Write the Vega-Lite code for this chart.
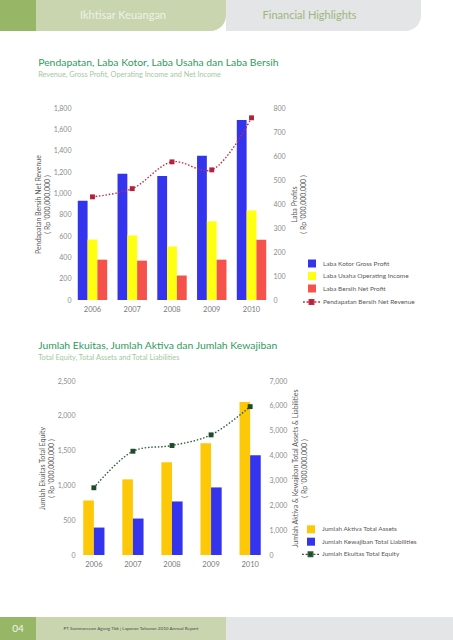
{
  "$schema": "https://vega.github.io/schema/vega-lite/v6.json",
  "padding": 0,
  "background": "white",
  "spacing": 0,
  "resolve": {"scale": {"color": "independent", "stroke": "independent", "xOffset": "independent", "x": "independent"}, "legend": {"color": "independent", "stroke": "independent"}},
  "config": {
    "font": "Lato",
    "view": {"stroke": null},
    "concat": {"spacing": 0},
    "axis": {"grid": false, "domain": false, "ticks": false, "labelColor": "#8c8c8c", "labelFontSize": 7, "titleColor": "#5a5a5a", "titleFontSize": 7, "titleFontWeight": "normal", "labelPadding": 2, "titlePadding": 3},
    "legend": {"padding": 0, "labelFontSize": 6.5, "labelColor": "#5a5a5a", "labelFont": "Lato"},
    "title": {"anchor": "start", "frame": "bounds", "color": "#2f9a5e", "fontSize": 10.4, "fontWeight": "normal", "subtitleColor": "#a3c89f", "subtitleFontSize": 7.3, "subtitlePadding": 2}
  },
  "datasets": {
    "profits": [
      {"year": "2006", "series": "Laba Kotor  Gross Profit", "value": 414},
      {"year": "2006", "series": "Laba Usaha  Operating Income", "value": 252},
      {"year": "2006", "series": "Laba Bersih  Net Profit", "value": 168},
      {"year": "2007", "series": "Laba Kotor  Gross Profit", "value": 526},
      {"year": "2007", "series": "Laba Usaha  Operating Income", "value": 269},
      {"year": "2007", "series": "Laba Bersih  Net Profit", "value": 164},
      {"year": "2008", "series": "Laba Kotor  Gross Profit", "value": 517},
      {"year": "2008", "series": "Laba Usaha  Operating Income", "value": 223},
      {"year": "2008", "series": "Laba Bersih  Net Profit", "value": 102},
      {"year": "2009", "series": "Laba Kotor  Gross Profit", "value": 601},
      {"year": "2009", "series": "Laba Usaha  Operating Income", "value": 328},
      {"year": "2009", "series": "Laba Bersih  Net Profit", "value": 168},
      {"year": "2010", "series": "Laba Kotor  Gross Profit", "value": 750},
      {"year": "2010", "series": "Laba Usaha  Operating Income", "value": 373},
      {"year": "2010", "series": "Laba Bersih  Net Profit", "value": 251}
    ],
    "revenue": [
      {"year": "2006", "series": "Pendapatan Bersih  Net Revenue", "value": 967},
      {"year": "2007", "series": "Pendapatan Bersih  Net Revenue", "value": 1044},
      {"year": "2008", "series": "Pendapatan Bersih  Net Revenue", "value": 1295},
      {"year": "2009", "series": "Pendapatan Bersih  Net Revenue", "value": 1220},
      {"year": "2010", "series": "Pendapatan Bersih  Net Revenue", "value": 1708}
    ],
    "balance": [
      {"year": "2006", "series": "Jumlah Aktiva  Total Assets", "value": 2194},
      {"year": "2006", "series": "Jumlah Kewajiban  Total Liabilities", "value": 1104},
      {"year": "2007", "series": "Jumlah Aktiva  Total Assets", "value": 3042},
      {"year": "2007", "series": "Jumlah Kewajiban  Total Liabilities", "value": 1467},
      {"year": "2008", "series": "Jumlah Aktiva  Total Assets", "value": 3729},
      {"year": "2008", "series": "Jumlah Kewajiban  Total Liabilities", "value": 2154},
      {"year": "2009", "series": "Jumlah Aktiva  Total Assets", "value": 4496},
      {"year": "2009", "series": "Jumlah Kewajiban  Total Liabilities", "value": 2719},
      {"year": "2010", "series": "Jumlah Aktiva  Total Assets", "value": 6160},
      {"year": "2010", "series": "Jumlah Kewajiban  Total Liabilities", "value": 4011}
    ],
    "equity": [
      {"year": "2006", "series": "Jumlah Ekuitas  Total Equity", "value": 966},
      {"year": "2007", "series": "Jumlah Ekuitas  Total Equity", "value": 1491},
      {"year": "2008", "series": "Jumlah Ekuitas  Total Equity", "value": 1573},
      {"year": "2009", "series": "Jumlah Ekuitas  Total Equity", "value": 1726},
      {"year": "2010", "series": "Jumlah Ekuitas  Total Equity", "value": 2132}
    ]
  },
  "vconcat": [
    {
      "hconcat": [
        {"width": 36, "height": 31, "view": {"fill": "#97b767"}, "data": {"values": [{"label": ""}]}, "mark": {"type": "text"}, "encoding": {"text": {"field": "label"}}},
        {"width": 190, "height": 31, "data": {"values": [{"label": "Ikhtisar Keuangan"}]},
         "layer": [
           {"mark": {"type": "rect", "color": "#c9d5ae", "cornerRadiusBottomRight": 20}, "encoding": {}},
           {"mark": {"type": "text", "color": "#eef2e6", "fontSize": 11, "dx": -8}, "encoding": {"text": {"field": "label"}}}
         ]},
        {"width": 195, "height": 31, "data": {"values": [{"label": "Financial Highlights"}]},
         "layer": [
           {"mark": {"type": "rect", "color": "#e4e5e7", "cornerRadiusBottomRight": 20}, "encoding": {}},
           {"mark": {"type": "text", "color": "#9cb67c", "fontSize": 11, "dx": -14}, "encoding": {"text": {"field": "label"}}}
         ]}
      ]
    },
    {"width": 1, "height": 27, "data": {"values": [{"label": ""}]}, "mark": {"type": "text"}, "encoding": {"text": {"field": "label"}}},
    {
      "hconcat": [
        {"width": 34, "height": 1, "data": {"values": [{"label": ""}]}, "mark": {"type": "text"}, "encoding": {"text": {"field": "label"}}},
        {
          "width": 198,
          "height": 192,
          "title": {"text": "Pendapatan, Laba Kotor, Laba Usaha dan Laba Bersih", "subtitle": "Revenue, Gross Profit, Operating Income and Net Income", "offset": 26, "dx": 4},
          "layer": [
            {
              "data": {"name": "profits"},
              "mark": {"type": "bar"},
              "encoding": {
                "x": {"field": "year", "type": "nominal", "scale": {"paddingInner": 0.26, "paddingOuter": 0.12}, "axis": {"title": null, "labelAngle": 0, "labelPadding": 5, "labelFontSize": 7.5, "labelColor": "#7a7a7a"}},
                "xOffset": {"field": "series", "type": "nominal", "sort": ["Laba Kotor  Gross Profit", "Laba Usaha  Operating Income", "Laba Bersih  Net Profit"], "scale": {"paddingInner": 0, "paddingOuter": 0}},
                "y": {"field": "value", "type": "quantitative", "scale": {"domain": [0, 800], "nice": false}, "axis": {"orient": "right", "values": [0, 100, 200, 300, 400, 500, 600, 700, 800], "format": ",d", "title": ["Laba Profits", "( Rp '000,000,000 )"], "titleAngle": 270}},
                "color": {"field": "series", "type": "nominal", "sort": ["Laba Kotor  Gross Profit", "Laba Usaha  Operating Income", "Laba Bersih  Net Profit"], "scale": {"domain": ["Laba Kotor  Gross Profit", "Laba Usaha  Operating Income", "Laba Bersih  Net Profit"], "range": ["#3434ef", "#ffff12", "#f5524b"]},
                  "legend": {"orient": "none", "legendX": 308, "legendY": 151.5, "title": null, "symbolType": "square", "symbolSize": 64, "symbolStrokeWidth": 0, "rowPadding": 4.5, "labelOffset": 7}}
              }
            },
            {
              "data": {"name": "revenue"},
              "encoding": {
                "x": {"field": "year", "type": "nominal"},
                "y": {"field": "value", "type": "quantitative", "scale": {"domain": [0, 1800], "nice": false}, "axis": {"orient": "left", "values": [0, 200, 400, 600, 800, 1000, 1200, 1400, 1600, 1800], "format": ",d", "title": ["Pendapatan Bersih Net Revenue", "( Rp '000,000,000 )"]}}
              },
              "layer": [
                {
                  "mark": {"type": "line", "interpolate": "catmull-rom", "strokeDash": [1.5, 1.8], "strokeWidth": 1.4},
                  "encoding": {
                    "stroke": {"field": "series", "type": "nominal", "scale": {"range": ["#c22b45"]},
                      "legend": {"orient": "none", "legendX": 302, "legendY": 184.5, "title": null, "symbolType": "M-1,0H-0.78M-0.58,0H-0.36M0.36,0H0.58M0.78,0H1M-0.27,-0.27H0.27V0.27H-0.27Z", "symbolSize": 289, "symbolStrokeWidth": 1.3, "symbolFillColor": "#b3223b", "symbolDash": [1, 0], "labelOffset": 2}}
                  }
                },
                {
                  "mark": {"type": "point", "shape": "square", "filled": true, "size": 24, "color": "#b3223b", "opacity": 1},
                  "encoding": {}
                }
              ]
            }
          ],
          "resolve": {"scale": {"y": "independent"}}
        }
      ]
    },
    {"width": 1, "height": 28, "data": {"values": [{"label": ""}]}, "mark": {"type": "text"}, "encoding": {"text": {"field": "label"}}},
    {
      "hconcat": [
        {"width": 38, "height": 1, "data": {"values": [{"label": ""}]}, "mark": {"type": "text"}, "encoding": {"text": {"field": "label"}}},
        {
          "width": 190,
          "height": 174,
          "title": {"text": "Jumlah Ekuitas, Jumlah Aktiva dan Jumlah Kewajiban", "subtitle": "Total Equity, Total Assets and Total Liabilities", "offset": 16},
          "layer": [
            {
              "data": {"name": "balance"},
              "mark": {"type": "bar"},
              "encoding": {
                "x": {"field": "year", "type": "nominal", "scale": {"paddingInner": 0.457, "paddingOuter": 0.16}, "axis": {"title": null, "labelAngle": 0, "labelPadding": 5, "labelFontSize": 7.5, "labelColor": "#7a7a7a"}},
                "xOffset": {"field": "series", "type": "nominal", "sort": ["Jumlah Aktiva  Total Assets", "Jumlah Kewajiban  Total Liabilities"], "scale": {"paddingInner": 0, "paddingOuter": 0}},
                "y": {"field": "value", "type": "quantitative", "scale": {"domain": [0, 7000], "nice": false}, "axis": {"orient": "right", "values": [0, 1000, 2000, 3000, 4000, 5000, 6000, 7000], "format": ",d", "title": ["Jumlah Aktiva & Kewajiban Total Assets & Liabilities", "( Rp '000,000,000 )"], "titleAngle": 270}},
                "color": {"field": "series", "type": "nominal", "sort": ["Jumlah Aktiva  Total Assets", "Jumlah Kewajiban  Total Liabilities"], "scale": {"domain": ["Jumlah Aktiva  Total Assets", "Jumlah Kewajiban  Total Liabilities"], "range": ["#fdc808", "#3434ef"]},
                  "legend": {"orient": "none", "legendX": 307, "legendY": 144.3, "title": null, "symbolType": "square", "symbolSize": 64, "symbolStrokeWidth": 0, "rowPadding": 4.4, "labelOffset": 7}}
              }
            },
            {
              "data": {"name": "equity"},
              "encoding": {
                "x": {"field": "year", "type": "nominal"},
                "y": {"field": "value", "type": "quantitative", "scale": {"domain": [0, 2500], "nice": false}, "axis": {"orient": "left", "values": [0, 500, 1000, 1500, 2000, 2500], "format": ",d", "title": ["Jumlah Ekuitas Total Equity", "( Rp '000,000,000 )"]}}
              },
              "layer": [
                {
                  "mark": {"type": "line", "interpolate": "catmull-rom", "strokeDash": [1.5, 1.8], "strokeWidth": 1.4},
                  "encoding": {
                    "stroke": {"field": "series", "type": "nominal", "scale": {"range": ["#2f5e3a"]},
                      "legend": {"orient": "none", "legendX": 301, "legendY": 163.8, "title": null, "symbolType": "M-1,0H-0.78M-0.58,0H-0.36M0.36,0H0.58M0.78,0H1M-0.27,-0.27H0.27V0.27H-0.27Z", "symbolSize": 289, "symbolStrokeWidth": 1.3, "symbolFillColor": "#1f4a2b", "symbolDash": [1, 0], "labelOffset": 2}}
                  }
                },
                {
                  "mark": {"type": "point", "shape": "square", "filled": true, "size": 24, "color": "#1f4a2b", "opacity": 1},
                  "encoding": {}
                }
              ]
            }
          ],
          "resolve": {"scale": {"y": "independent"}}
        }
      ]
    },
    {"width": 1, "height": 49, "data": {"values": [{"label": ""}]}, "mark": {"type": "text"}, "encoding": {"text": {"field": "label"}}},
    {
      "hconcat": [
        {"width": 36, "height": 24, "view": {"fill": "#97b767"}, "data": {"values": [{"label": "04"}]}, "mark": {"type": "text", "color": "#f2f5ec", "fontSize": 10}, "encoding": {"text": {"field": "label"}}},
        {"width": 190, "height": 24, "view": {"fill": "#c9d5ae"}, "data": {"values": [{"label": "PT Summarecon Agung Tbk  |  Laporan Tahunan 2010 Annual Report"}]}, "mark": {"type": "text", "color": "#4a4a4a", "fontSize": 4.6}, "encoding": {"text": {"field": "label"}}},
        {"width": 227, "height": 24, "view": {"fill": "#e4e5e7"}, "data": {"values": [{"label": ""}]}, "mark": {"type": "text"}, "encoding": {"text": {"field": "label"}}}
      ]
    }
  ]
}
